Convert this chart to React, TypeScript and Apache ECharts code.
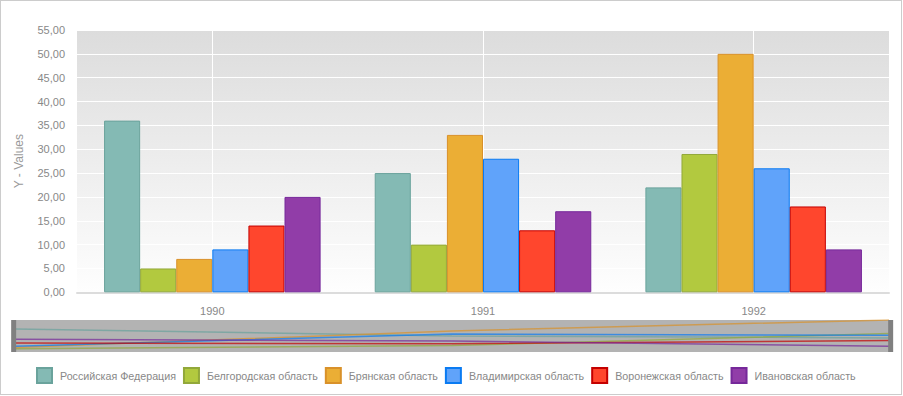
import React, { useEffect, useRef } from "react";
import * as echarts from "echarts";

const categories = ["1990", "1991", "1992"];
const seriesNames = [
  "Российская Федерация",
  "Белгородская область",
  "Брянская область",
  "Владимирская область",
  "Воронежская область",
  "Ивановская область",
];
const rfValues = [36, 25, 22];
const belgorodValues = [5, 10, 29];
const bryanskValues = [7, 33, 50];
const vladimirValues = [9, 28, 26];
const voronezhValues = [14, 13, 18];
const ivanovoValues = [20, 17, 9];
const seriesValues = [rfValues, belgorodValues, bryanskValues, vladimirValues, voronezhValues, ivanovoValues];

const fillColors = ["#84bab4", "#b2c93f", "#ebae35", "#60a3fa", "#ff462d", "#913da8"];
const borderColors = ["#6aa39c", "#92a83a", "#d9912a", "#0a7bf2", "#c40000", "#76289a"];

const yMin = 0;
const yMax = 55;
const yInterval = 5;

const FONT = "Liberation Sans";

export default function App() {
  const ref = useRef<HTMLDivElement>(null);
  useEffect(() => {
    if (!ref.current) return;
    const chart = echarts.init(ref.current, null, { renderer: "svg" });
    const barSeries = seriesNames.map((name, i) => ({
      name,
      type: "bar",
      xAxisIndex: 0,
      yAxisIndex: 0,
      data: seriesValues[i],
      barGap: "0%",
      barCategoryGap: "20%",
      itemStyle: { color: fillColors[i], borderColor: borderColors[i], borderWidth: 1 },
      emphasis: { disabled: true },
    }));
    const lineSeries = seriesNames.map((name, i) => ({
      name,
      type: "line",
      xAxisIndex: 2,
      yAxisIndex: 1,
      data: seriesValues[i],
      symbol: "none",
      silent: true,
      lineStyle: { color: borderColors[i], width: 1.5, opacity: 0.7 },
      itemStyle: { color: fillColors[i] },
      emphasis: { disabled: true },
    }));
    chart.setOption({
      animation: false,
      backgroundColor: "#ffffff",
      textStyle: { fontFamily: FONT },
      grid: [
        {
          left: 77,
          right: 14,
          top: 30,
          bottom: 103.7,
          show: true,
          borderWidth: 0,
          backgroundColor: new echarts.graphic.LinearGradient(0, 0, 0, 1, [
            { offset: 0, color: "#dcdcdc" },
            { offset: 1, color: "#fefefe" },
          ]),
        },
        {
          left: 15,
          right: 14,
          top: 320,
          height: 32,
          show: true,
          borderWidth: 0,
          backgroundColor: "#b3b3b3",
        },
      ],
      xAxis: [
        {
          type: "category",
          gridIndex: 0,
          data: categories,
          position: "bottom",
          axisLine: { show: true, lineStyle: { color: "#dcdcdc", width: 2 } },
          axisTick: { show: false },
          axisLabel: { color: "#888888", fontSize: 11, margin: 13, fontFamily: FONT },
          splitLine: { show: false },
        },
        {
          type: "category",
          gridIndex: 0,
          position: "top",
          boundaryGap: false,
          data: ["0", "1", "2", "3", "4", "5", "6"],
          axisLine: { show: false },
          axisTick: { show: false },
          axisLabel: { show: false },
          splitLine: {
            show: true,
            interval: (i: number) => i % 2 === 1,
            lineStyle: { color: "#ffffff", width: 1 },
          },
        },
        {
          type: "category",
          gridIndex: 1,
          boundaryGap: false,
          data: categories,
          show: false,
        },
      ],
      yAxis: [
        {
          type: "value",
          gridIndex: 0,
          min: yMin,
          max: yMax,
          interval: yInterval,
          name: "Y - Values",
          nameLocation: "middle",
          nameGap: 52,
          nameTextStyle: { color: "#999999", fontSize: 12, fontFamily: FONT },
          axisLine: { show: false },
          axisTick: { show: false },
          axisLabel: {
            color: "#888888",
            fontSize: 11,
            margin: 12,
            fontFamily: FONT,
            formatter: (v: number) => v.toFixed(2).replace(".", ","),
          },
          splitLine: { show: true, lineStyle: { color: "#ffffff", width: 1 } },
        },
        {
          type: "value",
          gridIndex: 1,
          min: 0,
          max: 50,
          show: false,
          splitLine: { show: false },
        },
      ],
      dataZoom: [
        {
          type: "slider",
          xAxisIndex: 2,
          start: 0,
          end: 100,
          filterMode: "none",
          left: 12.5,
          right: 11.5,
          top: 320,
          height: 32,
          backgroundColor: "rgba(0,0,0,0)",
          borderColor: "rgba(0,0,0,0)",
          fillerColor: "rgba(0,0,0,0)",
          showDetail: false,
          showDataShadow: false,
          brushSelect: false,
          moveHandleSize: 0,
          handleIcon: "path://M0,0H5V32H0Z",
          handleSize: "100%",
          handleStyle: { color: "#808080", borderWidth: 0 },
          emphasis: { handleStyle: { color: "#808080", borderWidth: 0 } },
          dataBackground: { lineStyle: { opacity: 0 }, areaStyle: { opacity: 0 } },
          selectedDataBackground: { lineStyle: { opacity: 0 }, areaStyle: { opacity: 0 } },
        },
      ],
      legend: {
        data: seriesNames,
        left: 31,
        top: 362,
        icon: "rect",
        itemWidth: 15,
        itemHeight: 15,
        itemGap: 7,
        selectedMode: false,
        textStyle: { color: "#888888", fontSize: 10.7, fontFamily: FONT, padding: [0, 0, 0, 3] },
      },
      series: [...barSeries, ...lineSeries],
    });
    return () => chart.dispose();
  }, []);
  return (
    <div style={{ position: "fixed", left: 0, top: 0, width: 903, height: 396 }}>
      <div ref={ref} style={{ position: "absolute", left: 0, top: 0, width: 903, height: 396 }} />
      <div
        style={{
          position: "absolute",
          left: 0,
          top: 0,
          width: 902,
          height: 395,
          boxSizing: "border-box",
          border: "1px solid #cccccc",
          pointerEvents: "none",
        }}
      />
    </div>
  );
}
